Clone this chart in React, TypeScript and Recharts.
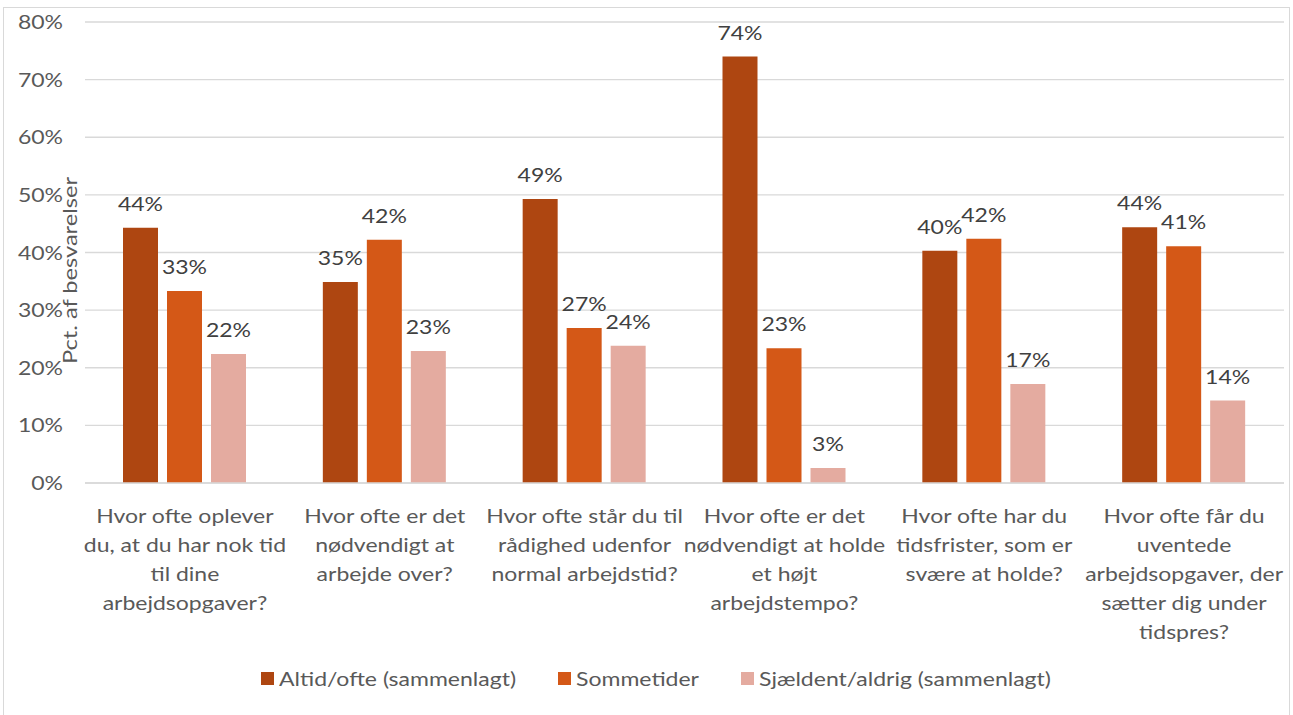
import { BarChart, Bar, XAxis, YAxis, CartesianGrid, Legend, LabelList } from 'recharts';

const categories = [
  'Hvor ofte oplever du, at du har nok tid til dine arbejdsopgaver?',
  'Hvor ofte er det nødvendigt at arbejde over?',
  'Hvor ofte står du til rådighed udenfor normal arbejdstid?',
  'Hvor ofte er det nødvendigt at holde et højt arbejdstempo?',
  'Hvor ofte har du tidsfrister, som er svære at holde?',
  'Hvor ofte får du uventede arbejdsopgaver, der sætter dig under tidspres?',
];

// line breaks of the category labels as they wrap in the picture
const categoryLines = [
  ['Hvor ofte oplever', 'du, at du har nok tid', 'til dine', 'arbejdsopgaver?'],
  ['Hvor ofte er det', 'nødvendigt at', 'arbejde over?'],
  ['Hvor ofte står du til', 'rådighed udenfor', 'normal arbejdstid?'],
  ['Hvor ofte er det', 'nødvendigt at holde', 'et højt', 'arbejdstempo?'],
  ['Hvor ofte har du', 'tidsfrister, som er', 'svære at holde?'],
  ['Hvor ofte får du', 'uventede', 'arbejdsopgaver, der', 'sætter dig under', 'tidspres?'],
];

const altidOfte = [44.3, 34.9, 49.3, 74.0, 40.3, 44.4];
const sommetider = [33.3, 42.2, 26.9, 23.4, 42.4, 41.1];
const sjaeldent = [22.4, 22.9, 23.8, 2.6, 17.2, 14.3];

const yTicks = [0, 10, 20, 30, 40, 50, 60, 70, 80];

const seriesNames = ['Altid/ofte (sammenlagt)', 'Sommetider', 'Sjældent/aldrig (sammenlagt)'];
const seriesColors = ['#AE4611', '#D45817', '#E4ABA0'];

const data = categories.map((c, i) => ({
  category: c,
  altid: altidOfte[i],
  somme: sommetider[i],
  sjaeldent: sjaeldent[i],
}));

const FONT = 'Lato, "Open Sans", sans-serif';
const FS = 19.5;
const SX = 1.18; // the source font runs wider than Lato

const CHART_W = 1293;
const CHART_H = 715;
const TOP = 22;
const X_AXIS_H = 232;

function STextLine({ x, y, anchor = 'middle', fill = '#595959', size = FS, rotate = 0, children }: any) {
  return (
    <text
      transform={`translate(${x} ${y}) rotate(${rotate}) scale(${SX} 1)`}
      x={0}
      y={0}
      textAnchor={anchor}
      fill={fill}
      fontSize={size}
      fontFamily={FONT}
    >
      {children}
    </text>
  );
}

function CategoryTick({ x, y, payload }: any) {
  const idx = categories.indexOf(payload.value);
  const lines = categoryLines[idx] || [payload.value];
  return (
    <g>
      {lines.map((line, i) => (
        <STextLine key={i} x={x} y={y + 40 + i * 29}>
          {line}
        </STextLine>
      ))}
    </g>
  );
}

function ValueTick({ x, y, payload }: any) {
  return (
    <STextLine x={x} y={y + 7} anchor="end">
      {`${payload.value}%`}
    </STextLine>
  );
}

function measure(text: string) {
  const ctx = document.createElement('canvas').getContext('2d');
  if (!ctx) return text.length * 9;
  ctx.font = `${FS}px Lato`;
  return ctx.measureText(text).width;
}

function LegendContent() {
  return (
    <div style={{ display: 'flex', justifyContent: 'center', fontFamily: FONT, fontSize: FS, color: '#595959' }}>
      {seriesNames.map((name, i) => (
        <div key={name} style={{ display: 'flex', alignItems: 'center', marginRight: i < 2 ? 42 : 0 }}>
          <span style={{ width: 13, height: 13, background: seriesColors[i], display: 'inline-block', marginRight: 5 }} />
          <span style={{ display: 'inline-block', width: measure(name) * SX, whiteSpace: 'nowrap' }}>
            <span style={{ display: 'inline-block', transform: `scaleX(${SX})`, transformOrigin: 'left center' }}>
              {name}
            </span>
          </span>
        </div>
      ))}
    </div>
  );
}

function makeValueLabel(key: string) {
  return (props: any) => {
    const { x, y, width, value } = props;
    return (
      <STextLine key={`${key}-${x}`} x={x + width / 2} y={y - 17} fill="#404040">
        {`${Math.round(Number(value))}%`}
      </STextLine>
    );
  };
}

export default function App() {
  const plotCenterY = TOP + (CHART_H - TOP - X_AXIS_H) / 2;
  return (
    <div style={{ position: 'absolute', left: 0, top: 0, width: CHART_W, height: CHART_H, overflow: 'hidden', background: '#fff' }}>
      <div
        style={{
          position: 'absolute',
          left: 3,
          top: 7,
          width: 1287,
          height: 730,
          border: '1px solid #D9D9D9',
          boxSizing: 'border-box',
        }}
      />
      <div style={{ position: 'absolute', left: 0, top: 0 }}>
        <BarChart
          width={CHART_W}
          height={CHART_H}
          data={data}
          margin={{ top: TOP, right: 9, left: 10, bottom: 0 }}
          barCategoryGap={38}
          barGap={9}
        >
          <CartesianGrid vertical={false} stroke="#D9D9D9" strokeWidth={1.3} />
          <XAxis
            dataKey="category"
            tick={<CategoryTick />}
            tickLine={false}
            axisLine={{ stroke: '#D9D9D9', strokeWidth: 1.3 }}
            tickSize={0}
            tickMargin={0}
            interval={0}
            height={X_AXIS_H}
          />
          <YAxis
            width={75}
            domain={[0, 80]}
            ticks={yTicks}
            tick={<ValueTick />}
            tickLine={false}
            axisLine={false}
            tickSize={0}
            tickMargin={22}
            label={{
              content: () => (
                <STextLine x={77} y={plotCenterY + 18} rotate={-90} size={20}>
                  Pct. af besvarelser
                </STextLine>
              ),
            }}
          />
          <Legend
            verticalAlign="middle"
            align="center"
            content={<LegendContent />}
            wrapperStyle={{ top: 667, left: 9, width: CHART_W }}
          />
          <Bar dataKey="altid" name={seriesNames[0]} fill={seriesColors[0]} isAnimationActive={false}>
            <LabelList dataKey="altid" content={makeValueLabel('altid')} />
          </Bar>
          <Bar dataKey="somme" name={seriesNames[1]} fill={seriesColors[1]} isAnimationActive={false}>
            <LabelList dataKey="somme" content={makeValueLabel('somme')} />
          </Bar>
          <Bar dataKey="sjaeldent" name={seriesNames[2]} fill={seriesColors[2]} isAnimationActive={false}>
            <LabelList dataKey="sjaeldent" content={makeValueLabel('sjaeldent')} />
          </Bar>
        </BarChart>
      </div>
    </div>
  );
}
